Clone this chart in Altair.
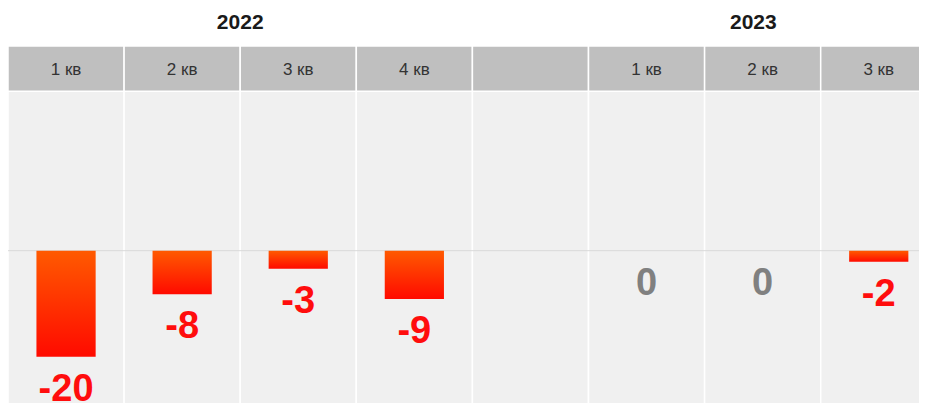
import altair as alt
import pandas as pd

quarters = ["1 кв", "2 кв", "3 кв", "4 кв", "", "1 кв", "2 кв", "3 кв"]
values = [-20, -8.2, -3.4, -9.1, None, 0, 0, -2.1]
labels = ["-20", "-8", "-3", "-9", "", "0", "0", "-2"]
years = ["2022", "2023"]
year_pos = [2.0, 6.42]

FONT = "Liberation Sans"
W, H = 911, 395
XMAX = W / 116.1
YMAX = 242.7 / 5.3
YMIN = -(H - 242.7) / 5.3
HEAD_LO, HEAD_HI, HEAD_TXT, YEAR_Y = 30.1, 38.6, 33.09, 42.9

cols = pd.DataFrame({
    "i": list(range(len(quarters))),
    "q": quarters,
    "v": values,
    "lab": labels,
})
cols["x0"] = cols["i"]
cols["x1"] = cols["i"] + 1
cols["xc"] = cols["i"] + 0.5
cols["b0"] = cols["i"] + 0.245
cols["b1"] = cols["i"] + 0.755
cols["ybot"] = YMIN - 1
cols["ytop"] = HEAD_LO
cols["hlo"] = HEAD_LO
cols["hhi"] = HEAD_HI
cols["ht"] = HEAD_TXT

yrs = pd.DataFrame({"year": years, "x": year_pos, "y": [YEAR_Y] * len(years)})

xs = alt.Scale(domain=[0, XMAX], nice=False, zero=False)
ys = alt.Scale(domain=[YMIN, YMAX], nice=False, zero=False)

base = alt.Chart(cols)

body = base.mark_rect(fill="#f0f0f0", stroke="#ffffff", strokeWidth=1.5, clip=True).encode(
    x=alt.X("x0:Q", scale=xs, axis=None), x2="x1:Q",
    y=alt.Y("ybot:Q", scale=ys, axis=None), y2="ytop:Q",
)
head = base.mark_rect(fill="#bfbfbf", stroke="#ffffff", strokeWidth=1.5, clip=True).encode(
    x=alt.X("x0:Q", scale=xs, axis=None), x2="x1:Q",
    y=alt.Y("hlo:Q", scale=ys, axis=None), y2="hhi:Q",
)
zero = alt.Chart(pd.DataFrame({"y": [0]})).mark_rule(color="#d9d9d9", strokeWidth=1).encode(
    y=alt.Y("y:Q", scale=ys, axis=None),
)
grad = alt.Gradient(
    gradient="linear",
    stops=[alt.GradientStop(color="#ff5a00", offset=0),
           alt.GradientStop(color="#ff0a00", offset=1)],
    x1=0, x2=0, y1=0, y2=1,
)
bars = base.transform_filter("datum.v != null && datum.v != 0").mark_rect(color=grad).encode(
    x=alt.X("b0:Q", scale=xs, axis=None), x2="b1:Q",
    y=alt.Y("v:Q", scale=ys, axis=None), y2=alt.Y2(datum=0),
)
vals = base.transform_filter("datum.v != null").mark_text(
    font=FONT, fontSize=38, fontWeight="bold", baseline="alphabetic", dy=44
).encode(
    x=alt.X("xc:Q", scale=xs, axis=None),
    y=alt.Y("v:Q", scale=ys, axis=None),
    text="lab:N",
    color=alt.condition("datum.v == 0", alt.value("#808080"), alt.value("#ff0d0d")),
)
qtxt = base.mark_text(font=FONT, fontSize=17, color="#333333", baseline="alphabetic", clip=True).encode(
    x=alt.X("xc:Q", scale=xs, axis=None),
    y=alt.Y("ht:Q", scale=ys, axis=None),
    text="q:N",
)
ytxt = alt.Chart(yrs).mark_text(font=FONT, fontSize=21, fontWeight="bold", color="#1a1a1a", baseline="middle").encode(
    x=alt.X("x:Q", scale=xs, axis=None),
    y=alt.Y("y:Q", scale=ys, axis=None),
    text="year:N",
)

chart = alt.layer(body, head, zero, bars, vals, qtxt, ytxt).properties(
    width=W, height=H, padding=0, autosize=alt.AutoSizeParams(type="none"),
    background="#ffffff",
).configure_view(stroke=None)

chart.save("out.html", embed_options={"renderer": "svg", "actions": False})
